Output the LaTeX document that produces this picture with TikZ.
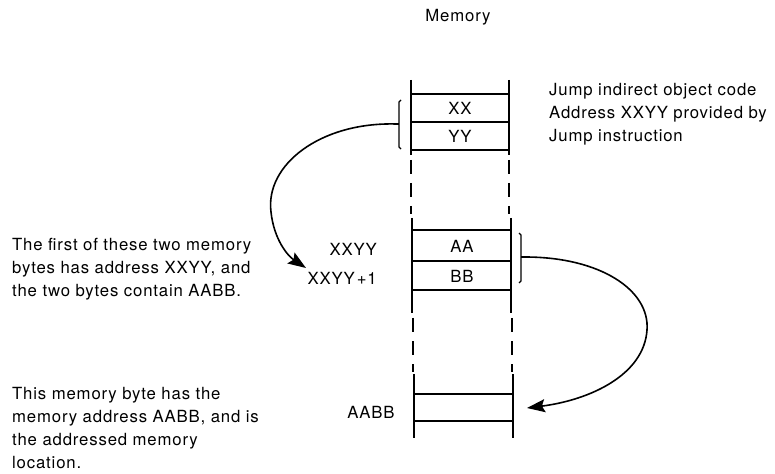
\documentclass[tikz,border=0pt]{standalone}
\usepackage{fontspec}
\setmainfont[LetterSpace=5]{TeX Gyre Heros}
\usetikzlibrary{arrows.meta}
\begin{document}
\begin{tikzpicture}[x=1bp,y=-1bp,
  txt/.style={font=\fontsize{16.8}{23.2}\selectfont, inner sep=0pt},
  para/.style={txt, align=left, anchor=north west},
  col/.style={line width=1.8bp},
  row/.style={line width=1.4bp},
  dsh/.style={line width=1.8bp, dash pattern=on 14bp off 9bp},
  brk/.style={line width=1.3bp},
  conn/.style={line width=1.6bp, -{Stealth[length=18bp,width=13bp,inset=3bp]}}]
\useasboundingbox (0,0) rectangle (775,474);

% title
\node[txt, anchor=base] (title) at (458,22) {Memory};

% top section
\draw[col] (411,80) -- (411,155);
\draw[col] (509,80) -- (509,155);
\draw[row] (411,94) -- (509,94);
\draw[row] (411,122) -- (509,122);
\draw[row] (411,150) -- (509,150);
\node[txt] (xx) at (460,108) {XX};
\node[txt] (yy) at (460,136) {YY};
\draw[dsh] (411,160) -- (411,214);
\draw[dsh] (509,160) -- (509,214);

% middle section
\draw[col] (412,218) -- (412,313);
\draw[col] (511,218) -- (511,313);
\draw[row] (412,230) -- (511,230);
\draw[row] (412,261) -- (511,261);
\draw[row] (412,290) -- (511,290);
\node[txt] (aa) at (462,246) {AA};
\node[txt] (bb) at (462,276) {BB};
\draw[dsh] (413,318) -- (413,372);
\draw[dsh] (512,318) -- (512,372);

% bottom section
\draw[col] (414,374) -- (414,438);
\draw[col] (513,374) -- (513,438);
\draw[row] (414,394) -- (513,394);
\draw[row] (414,421) -- (513,421);
\node[txt] (aabb) at (371,412) {AABB};

% address labels
\node[txt, anchor=base east] (xxyy) at (377,256) {XXYY};
\node[txt, anchor=base east] (xxyy1) at (377,285) {XXYY\kern2bp+1};

% brackets
\draw[brk] (401,100) -- (399,102) -- (399,147) -- (401,149);
\draw[brk] (399,124) -- (396,124) coordinate (lbr);
\draw[brk] (519,233) -- (521,235) -- (521,281) -- (519,283);
\draw[brk] (521,257) -- (525,257) coordinate (rbr);

\coordinate (ltip) at (306,268);
\coordinate (rtip) at (527,408);

% connectors
\draw[conn] (lbr) .. controls (320,122) and (265,165) .. (271,212)
  .. controls (274,240) and (288,256) .. (ltip);
\draw[conn] (rbr) .. controls (600,257) and (650,290) .. (647,330)
  .. controls (644,375) and (590,400) .. (rtip);

% explanatory texts
\node[para] (jtxt) at (549,83) {Jump indirect object code\\Address XXYY provided by\\Jump instruction};
\node[para] (ftxt) at (12,238) {The first of these two memory\\bytes has address XXYY, and\\the two bytes contain AABB.};
\node[para] (btxt) at (12,387) {This memory byte has the\\memory address AABB, and is\\the addressed memory\\location.};
\end{tikzpicture}
\end{document}
